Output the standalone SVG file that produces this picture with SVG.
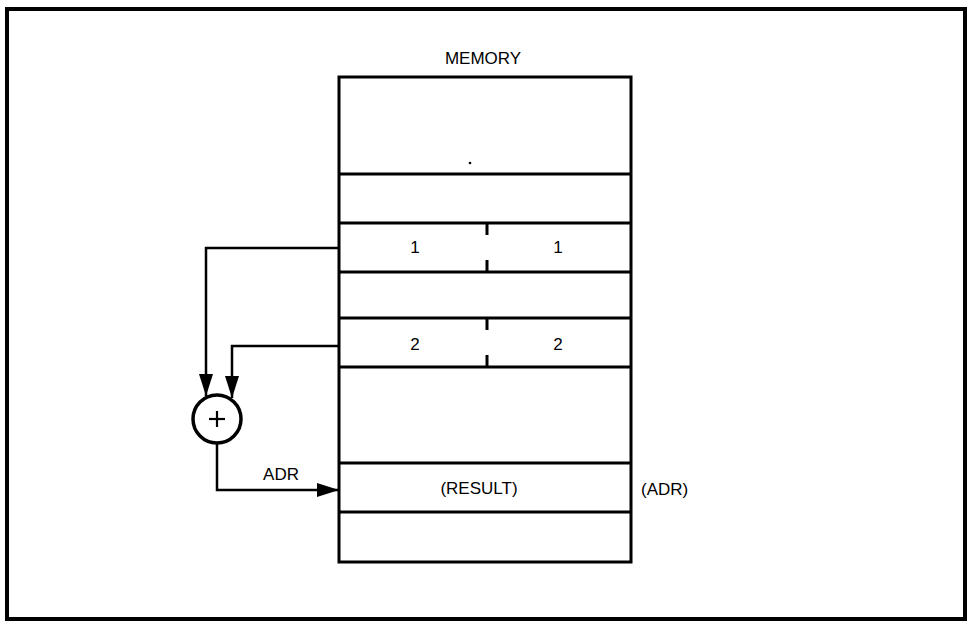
<svg xmlns="http://www.w3.org/2000/svg" width="969" height="622" viewBox="0 0 969 622">
  <style>
    .t { font-family: "Liberation Sans", Arial, sans-serif; font-size: 17px; fill: #000; }
    .box { fill: none; stroke: #000; stroke-width: 3; }
    .div { stroke: #000; stroke-width: 3; }
    .wire { fill: none; stroke: #000; stroke-width: 2.5; }
  </style>
  <defs>
    <marker id="arrow" viewBox="0 0 22 14" refX="22" refY="7" markerWidth="22" markerHeight="14" markerUnits="userSpaceOnUse" orient="auto">
      <path d="M0,0 L22,7 L0,14 Z" fill="#000"/>
    </marker>
  </defs>
  <rect width="969" height="622" fill="#fff"/>
  <rect id="frame" x="7" y="9" width="958" height="610" fill="none" stroke="#000" stroke-width="4"/>

  <g id="memory">
    <text class="t" x="483" y="64" text-anchor="middle" font-size="18">MEMORY</text>
    <rect class="box" x="339" y="77" width="292" height="485"/>
    <line class="div" x1="339" y1="174" x2="631" y2="174"/>
    <line class="div" x1="339" y1="223" x2="631" y2="223"/>
    <line class="div" x1="339" y1="272" x2="631" y2="272"/>
    <line class="div" x1="339" y1="318" x2="631" y2="318"/>
    <line class="div" x1="339" y1="367" x2="631" y2="367"/>
    <line class="div" x1="339" y1="463" x2="631" y2="463"/>
    <line class="div" x1="339" y1="512" x2="631" y2="512"/>
    <circle cx="470" cy="163" r="1.3" fill="#000"/>
  </g>

  <g id="word1">
    <line class="div" x1="487" y1="223" x2="487" y2="235"/>
    <line class="div" x1="487" y1="260" x2="487" y2="272"/>
    <text class="t" x="415" y="253" text-anchor="middle">1</text>
    <text class="t" x="558" y="253" text-anchor="middle">1</text>
  </g>

  <g id="word2">
    <line class="div" x1="487" y1="318" x2="487" y2="330"/>
    <line class="div" x1="487" y1="355" x2="487" y2="367"/>
    <text class="t" x="415" y="350" text-anchor="middle">2</text>
    <text class="t" x="558" y="350" text-anchor="middle">2</text>
  </g>

  <g id="result">
    <text class="t" x="479" y="494" text-anchor="middle">(RESULT)</text>
    <text class="t" x="641" y="495">(ADR)</text>
  </g>

  <g id="adder">
    <circle cx="217" cy="419" r="24" fill="#fff" stroke="#000" stroke-width="3.5"/>
    <line x1="209" y1="419" x2="225" y2="419" stroke="#000" stroke-width="2.2"/>
    <line x1="217" y1="411" x2="217" y2="427" stroke="#000" stroke-width="2.2"/>
  </g>

  <g id="connectors">
    <polyline class="wire" points="339,248 206,248 206,396" marker-end="url(#arrow)"/>
    <polyline class="wire" points="339,346 232,346 232,398" marker-end="url(#arrow)"/>
    <polyline class="wire" points="217,443 217,490 339,490" marker-end="url(#arrow)"/>
    <text class="t" x="281" y="480" text-anchor="middle">ADR</text>
  </g>
</svg>
